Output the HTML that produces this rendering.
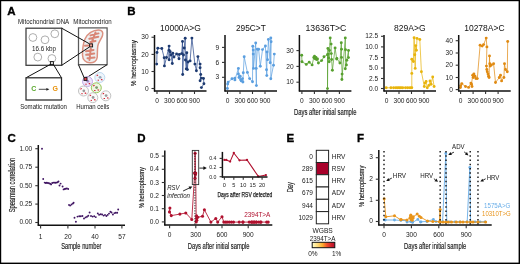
<!DOCTYPE html>
<html><head><meta charset="utf-8"><title>Figure</title>
<style>
html,body{margin:0;padding:0;background:#fff;width:520px;height:264px;overflow:hidden;}
svg{display:block;will-change:transform;}
text{font-family:"Liberation Sans", sans-serif;}
</style></head>
<body>
<svg width="520" height="264" viewBox="0 0 520 264">
<rect x="0" y="0" width="520" height="264" fill="#fff"/>
<rect x="0.5" y="0.5" width="518.8" height="262.8" fill="none" stroke="#000" stroke-width="1.4"/>
<text x="7.3" y="15.3" font-size="11.5" text-anchor="start" fill="#000" font-weight="bold" stroke="#000" stroke-width="0.35">A</text>
<text x="127.3" y="15.3" font-size="11.5" text-anchor="start" fill="#000" font-weight="bold" stroke="#000" stroke-width="0.35">B</text>
<text x="7.4" y="141.6" font-size="11.5" text-anchor="start" fill="#000" font-weight="bold" stroke="#000" stroke-width="0.35">C</text>
<text x="137.3" y="141.8" font-size="11.5" text-anchor="start" fill="#000" font-weight="bold" stroke="#000" stroke-width="0.35">D</text>
<text x="286.4" y="142.0" font-size="11.5" text-anchor="start" fill="#000" font-weight="bold" stroke="#000" stroke-width="0.35">E</text>
<text x="356.9" y="142.0" font-size="11.5" text-anchor="start" fill="#000" font-weight="bold" stroke="#000" stroke-width="0.35">F</text>
<text x="18" y="23.6" font-size="6.3" text-anchor="start" fill="#1a1a1a" textLength="51.2" lengthAdjust="spacingAndGlyphs">Mitochondrial DNA</text>
<text x="73.3" y="23.6" font-size="6.3" text-anchor="start" fill="#1a1a1a" textLength="38.4" lengthAdjust="spacingAndGlyphs">Mitochondrion</text>
<rect x="26" y="28.2" width="35.7" height="37.1" fill="#fff" stroke="#3a3a3a" stroke-width="1.25"/>
<circle cx="32.9" cy="37.5" r="3.9" fill="none" stroke="#999" stroke-width="0.8"/>
<circle cx="45" cy="39.8" r="3.9" fill="none" stroke="#999" stroke-width="0.8"/>
<circle cx="54.8" cy="33.8" r="3.9" fill="none" stroke="#999" stroke-width="0.8"/>
<circle cx="37.8" cy="57.1" r="3.9" fill="none" stroke="#999" stroke-width="0.8"/>
<circle cx="51.9" cy="58.5" r="3.9" fill="none" stroke="#999" stroke-width="0.8"/>
<text x="32.0" y="50.5" font-size="6.3" text-anchor="start" fill="#222" textLength="24" lengthAdjust="spacingAndGlyphs">16.6 kbp</text>
<rect x="78.5" y="27.9" width="28.6" height="36.8" fill="#fff" stroke="#5a5a5a" stroke-width="1.25"/>
<path d="M98.5,30 C102,30 103.5,32 102.5,35.5 C101.5,39 98.5,42 97.8,46 C97.2,50 97.5,54 97.2,57.5 C96.8,61 93.5,63 90,62.8 C86,62.6 82.6,60 82.5,55 C82.4,49 83,44 85,39 C87.5,33.5 93,30 98.5,30 Z" fill="#edeff0" stroke="#dc9282" stroke-width="1.5"/>
<path d="M95.5,32.5 L91.5,43 M90.5,35.4 L98.5,33.4 M89.3,38.8 L98.3,36.8 M90.3,42 L95.5,41 M90.8,48.5 L89.5,60 M86,51.2 L93.5,50 M86.2,54.8 L94.2,53.6 M87.5,58.2 L94.5,57.6 M85,45.8 L88.8,45.6" stroke="#d98676" stroke-width="2.0" fill="none" stroke-linecap="round"/>
<line x1="61.7" y1="28.2" x2="89.6" y2="43.9" stroke="#111" stroke-width="1"/>
<line x1="61.7" y1="65.3" x2="89.6" y2="46.9" stroke="#111" stroke-width="1"/>
<rect x="89.6" y="43.9" width="3" height="3" fill="#f0a090" stroke="#111" stroke-width="0.9"/>
<rect x="50.4" y="61.6" width="3" height="3" fill="#ddd" stroke="#111" stroke-width="0.9"/>
<line x1="50.4" y1="64.4" x2="26" y2="77.8" stroke="#111" stroke-width="1"/>
<line x1="53.4" y1="64.4" x2="61.5" y2="77.8" stroke="#111" stroke-width="1"/>
<line x1="78.5" y1="64.7" x2="84.0" y2="77.4" stroke="#111" stroke-width="1"/>
<line x1="107.1" y1="64.7" x2="87.0" y2="77.4" stroke="#111" stroke-width="1"/>
<rect x="26" y="77.8" width="35.5" height="22.2" fill="#fff" stroke="#2a2a2a" stroke-width="1.25"/>
<text x="31.3" y="91.2" font-size="7" text-anchor="start" fill="#5aa82e" font-weight="bold">C</text>
<line x1="38.8" y1="89.3" x2="47" y2="89.3" stroke="#222" stroke-width="0.8"/>
<path d="M46.4,87.9 L49.4,89.3 L46.4,90.7 Z" fill="#222"/>
<text x="52.4" y="91.2" font-size="7" text-anchor="start" fill="#e8920c" font-weight="bold">G</text>
<text x="20.2" y="108.7" font-size="6.3" text-anchor="start" fill="#1a1a1a" textLength="46.8" lengthAdjust="spacingAndGlyphs">Somatic mutation</text>
<text x="76.2" y="108.7" font-size="6.3" text-anchor="start" fill="#1a1a1a" textLength="33.2" lengthAdjust="spacingAndGlyphs">Human cells</text>
<circle cx="87.5" cy="81.5" r="5" fill="#ede4fb" stroke="#b9a0e0" stroke-width="0.9"/>
<circle cx="87.8" cy="81.3" r="1.4" fill="#a08cc8"/>
<rect x="84.3" y="78.7" width="1.6" height="1.1" fill="#d32030" transform="rotate(-30 85.1 79.3)"/>
<rect x="88.7" y="83.1" width="1.6" height="1.1" fill="#d32030" transform="rotate(20 89.5 83.6)"/>
<rect x="85.3" y="83.7" width="1.4" height="1" fill="#d32030"/>
<circle cx="99.8" cy="77.5" r="5" fill="#eef5fb" stroke="#b8d4ee" stroke-width="0.9"/>
<circle cx="100.1" cy="77.3" r="1.4" fill="#9ab"/>
<rect x="96.6" y="74.7" width="1.6" height="1.1" fill="#d32030" transform="rotate(-30 97.39999999999999 75.3)"/>
<rect x="101.0" y="79.1" width="1.6" height="1.1" fill="#d32030" transform="rotate(20 101.8 79.6)"/>
<rect x="97.6" y="79.7" width="1.4" height="1" fill="#d32030"/>
<circle cx="96.3" cy="87.8" r="5" fill="#eef6e2" stroke="#8cc04a" stroke-width="0.9"/>
<circle cx="96.6" cy="87.6" r="1.4" fill="#7a9a6a"/>
<rect x="93.1" y="85.0" width="1.6" height="1.1" fill="#d32030" transform="rotate(-30 93.89999999999999 85.6)"/>
<rect x="97.5" y="89.39999999999999" width="1.6" height="1.1" fill="#d32030" transform="rotate(20 98.3 89.89999999999999)"/>
<rect x="94.1" y="90.0" width="1.4" height="1" fill="#d32030"/>
<circle cx="83.5" cy="91.0" r="5" fill="#fafafa" stroke="#bbb" stroke-width="0.9"/>
<circle cx="83.8" cy="90.8" r="1.4" fill="#9a9a9a"/>
<rect x="80.3" y="88.2" width="1.6" height="1.1" fill="#d32030" transform="rotate(-30 81.1 88.8)"/>
<rect x="84.7" y="92.6" width="1.6" height="1.1" fill="#d32030" transform="rotate(20 85.5 93.1)"/>
<rect x="81.3" y="93.2" width="1.4" height="1" fill="#d32030"/>
<circle cx="92.8" cy="97.7" r="5" fill="#fafafa" stroke="#bbb" stroke-width="0.9"/>
<circle cx="93.1" cy="97.5" r="1.4" fill="#9a9a9a"/>
<rect x="89.6" y="94.9" width="1.6" height="1.1" fill="#d32030" transform="rotate(-30 90.39999999999999 95.5)"/>
<rect x="94.0" y="99.3" width="1.6" height="1.1" fill="#d32030" transform="rotate(20 94.8 99.8)"/>
<rect x="90.6" y="99.9" width="1.4" height="1" fill="#d32030"/>
<circle cx="105.8" cy="95.8" r="5" fill="#fafafa" stroke="#bbb" stroke-width="0.9"/>
<circle cx="106.1" cy="95.6" r="1.4" fill="#9a9a9a"/>
<rect x="102.6" y="93.0" width="1.6" height="1.1" fill="#d32030" transform="rotate(-30 103.39999999999999 93.6)"/>
<rect x="107.0" y="97.39999999999999" width="1.6" height="1.1" fill="#d32030" transform="rotate(20 107.8 97.89999999999999)"/>
<rect x="103.6" y="98.0" width="1.4" height="1" fill="#d32030"/>
<rect x="84.0" y="77.4" width="3" height="3" fill="#e04050" stroke="#111" stroke-width="0.9"/>
<polyline points="156.70,64.10 157.00,52.50 157.80,48.20 161.80,48.50 164.20,57.70 164.40,65.90 166.50,57.50 169.10,46.10 169.10,59.80 169.10,50.20 170.20,51.80 171.00,55.00 172.30,63.50 172.80,53.20 174.00,57.00 176.60,53.90 179.00,58.70 179.30,54.50 181.70,53.60 182.50,41.50 182.70,74.50 183.50,55.00 184.20,48.00 185.20,38.30 185.40,60.00 186.30,68.90 186.80,52.80 187.40,69.60 188.00,62.00 190.10,60.90 191.90,38.10 194.90,64.10 196.40,70.70 197.90,56.60 200.10,64.10 200.10,67.70 200.70,74.50 200.10,80.80 201.40,78.10 203.50,78.50 203.90,83.80 201.40,87.60" fill="none" stroke="#25468a" stroke-width="0.9" stroke-linejoin="round" stroke-opacity="0.8"/>
<circle cx="156.70" cy="64.10" r="1.45" fill="#1d3a70"/>
<circle cx="157.00" cy="52.50" r="1.45" fill="#1d3a70"/>
<circle cx="157.80" cy="48.20" r="1.45" fill="#1d3a70"/>
<circle cx="161.80" cy="48.50" r="1.45" fill="#1d3a70"/>
<circle cx="164.20" cy="57.70" r="1.45" fill="#1d3a70"/>
<circle cx="164.40" cy="65.90" r="1.45" fill="#1d3a70"/>
<circle cx="166.50" cy="57.50" r="1.45" fill="#1d3a70"/>
<circle cx="169.10" cy="46.10" r="1.45" fill="#1d3a70"/>
<circle cx="169.10" cy="59.80" r="1.45" fill="#1d3a70"/>
<circle cx="169.10" cy="50.20" r="1.45" fill="#1d3a70"/>
<circle cx="170.20" cy="51.80" r="1.45" fill="#1d3a70"/>
<circle cx="171.00" cy="55.00" r="1.45" fill="#1d3a70"/>
<circle cx="172.30" cy="63.50" r="1.45" fill="#1d3a70"/>
<circle cx="172.80" cy="53.20" r="1.45" fill="#1d3a70"/>
<circle cx="174.00" cy="57.00" r="1.45" fill="#1d3a70"/>
<circle cx="176.60" cy="53.90" r="1.45" fill="#1d3a70"/>
<circle cx="179.00" cy="58.70" r="1.45" fill="#1d3a70"/>
<circle cx="179.30" cy="54.50" r="1.45" fill="#1d3a70"/>
<circle cx="181.70" cy="53.60" r="1.45" fill="#1d3a70"/>
<circle cx="182.50" cy="41.50" r="1.45" fill="#1d3a70"/>
<circle cx="182.70" cy="74.50" r="1.45" fill="#1d3a70"/>
<circle cx="183.50" cy="55.00" r="1.45" fill="#1d3a70"/>
<circle cx="184.20" cy="48.00" r="1.45" fill="#1d3a70"/>
<circle cx="185.20" cy="38.30" r="1.45" fill="#1d3a70"/>
<circle cx="185.40" cy="60.00" r="1.45" fill="#1d3a70"/>
<circle cx="186.30" cy="68.90" r="1.45" fill="#1d3a70"/>
<circle cx="186.80" cy="52.80" r="1.45" fill="#1d3a70"/>
<circle cx="187.40" cy="69.60" r="1.45" fill="#1d3a70"/>
<circle cx="188.00" cy="62.00" r="1.45" fill="#1d3a70"/>
<circle cx="190.10" cy="60.90" r="1.45" fill="#1d3a70"/>
<circle cx="191.90" cy="38.10" r="1.45" fill="#1d3a70"/>
<circle cx="194.90" cy="64.10" r="1.45" fill="#1d3a70"/>
<circle cx="196.40" cy="70.70" r="1.45" fill="#1d3a70"/>
<circle cx="197.90" cy="56.60" r="1.45" fill="#1d3a70"/>
<circle cx="200.10" cy="64.10" r="1.45" fill="#1d3a70"/>
<circle cx="200.10" cy="67.70" r="1.45" fill="#1d3a70"/>
<circle cx="200.70" cy="74.50" r="1.45" fill="#1d3a70"/>
<circle cx="200.10" cy="80.80" r="1.45" fill="#1d3a70"/>
<circle cx="201.40" cy="78.10" r="1.45" fill="#1d3a70"/>
<circle cx="203.50" cy="78.50" r="1.45" fill="#1d3a70"/>
<circle cx="203.90" cy="83.80" r="1.45" fill="#1d3a70"/>
<circle cx="201.40" cy="87.60" r="1.45" fill="#1d3a70"/>
<line x1="154.5" y1="35" x2="154.5" y2="91.5" stroke="#111" stroke-width="1.5"/>
<line x1="154.0" y1="91" x2="206.5" y2="91" stroke="#111" stroke-width="1.5"/>
<line x1="151.5" y1="37.25" x2="154.5" y2="37.25" stroke="#333" stroke-width="1.1"/>
<text x="148.7" y="39.35" font-size="6.6" text-anchor="end" fill="#222">30</text>
<line x1="151.5" y1="54.4" x2="154.5" y2="54.4" stroke="#333" stroke-width="1.1"/>
<text x="148.7" y="56.5" font-size="6.6" text-anchor="end" fill="#222">20</text>
<line x1="151.5" y1="71.5" x2="154.5" y2="71.5" stroke="#333" stroke-width="1.1"/>
<text x="148.7" y="73.6" font-size="6.6" text-anchor="end" fill="#222">10</text>
<line x1="151.5" y1="88.5" x2="154.5" y2="88.5" stroke="#333" stroke-width="1.1"/>
<text x="148.7" y="90.6" font-size="6.6" text-anchor="end" fill="#222">0</text>
<line x1="157.0" y1="91" x2="157.0" y2="94" stroke="#333" stroke-width="1.1"/>
<text x="157.0" y="102.5" font-size="6.6" text-anchor="middle" fill="#222">0</text>
<line x1="169.5" y1="91" x2="169.5" y2="94" stroke="#333" stroke-width="1.1"/>
<text x="169.5" y="102.5" font-size="6.6" text-anchor="middle" fill="#222">300</text>
<line x1="182.0" y1="91" x2="182.0" y2="94" stroke="#333" stroke-width="1.1"/>
<text x="182.0" y="102.5" font-size="6.6" text-anchor="middle" fill="#222">600</text>
<line x1="194.5" y1="91" x2="194.5" y2="94" stroke="#333" stroke-width="1.1"/>
<text x="194.5" y="102.5" font-size="6.6" text-anchor="middle" fill="#222">900</text>
<text x="160.0" y="31" font-size="8.4" text-anchor="start" fill="#111" textLength="40.8" lengthAdjust="spacingAndGlyphs">10000A&gt;G</text>
<polyline points="227.40,88.50 227.70,84.00 228.20,82.10 232.00,78.80 234.90,78.10 234.90,79.90 238.40,68.40 238.40,74.00 239.00,77.50 240.20,76.30 240.60,79.70 241.30,80.90 242.50,78.60 242.90,82.00 243.30,72.70 244.20,56.80 247.40,72.40 249.60,78.60 252.50,81.80 252.80,46.20 253.20,50.10 253.20,54.10 253.50,68.40 255.70,43.00 256.40,85.60 256.20,68.40 257.30,49.20 258.60,49.20 260.30,66.20 262.50,49.60 265.40,46.00 266.50,69.80 266.80,75.60 267.00,51.90 267.50,59.80 268.40,39.50 270.20,62.70 270.80,37.90 271.10,41.70 270.80,78.80 273.50,65.20 274.30,54.10" fill="none" stroke="#5b9fe0" stroke-width="0.9" stroke-linejoin="round" stroke-opacity="0.8"/>
<circle cx="227.40" cy="88.50" r="1.45" fill="#5b9fe0"/>
<circle cx="227.70" cy="84.00" r="1.45" fill="#5b9fe0"/>
<circle cx="228.20" cy="82.10" r="1.45" fill="#5b9fe0"/>
<circle cx="232.00" cy="78.80" r="1.45" fill="#5b9fe0"/>
<circle cx="234.90" cy="78.10" r="1.45" fill="#5b9fe0"/>
<circle cx="234.90" cy="79.90" r="1.45" fill="#5b9fe0"/>
<circle cx="238.40" cy="68.40" r="1.45" fill="#5b9fe0"/>
<circle cx="238.40" cy="74.00" r="1.45" fill="#5b9fe0"/>
<circle cx="239.00" cy="77.50" r="1.45" fill="#5b9fe0"/>
<circle cx="240.20" cy="76.30" r="1.45" fill="#5b9fe0"/>
<circle cx="240.60" cy="79.70" r="1.45" fill="#5b9fe0"/>
<circle cx="241.30" cy="80.90" r="1.45" fill="#5b9fe0"/>
<circle cx="242.50" cy="78.60" r="1.45" fill="#5b9fe0"/>
<circle cx="242.90" cy="82.00" r="1.45" fill="#5b9fe0"/>
<circle cx="243.30" cy="72.70" r="1.45" fill="#5b9fe0"/>
<circle cx="244.20" cy="56.80" r="1.45" fill="#5b9fe0"/>
<circle cx="247.40" cy="72.40" r="1.45" fill="#5b9fe0"/>
<circle cx="249.60" cy="78.60" r="1.45" fill="#5b9fe0"/>
<circle cx="252.50" cy="81.80" r="1.45" fill="#5b9fe0"/>
<circle cx="252.80" cy="46.20" r="1.45" fill="#5b9fe0"/>
<circle cx="253.20" cy="50.10" r="1.45" fill="#5b9fe0"/>
<circle cx="253.20" cy="54.10" r="1.45" fill="#5b9fe0"/>
<circle cx="253.50" cy="68.40" r="1.45" fill="#5b9fe0"/>
<circle cx="255.70" cy="43.00" r="1.45" fill="#5b9fe0"/>
<circle cx="256.40" cy="85.60" r="1.45" fill="#5b9fe0"/>
<circle cx="256.20" cy="68.40" r="1.45" fill="#5b9fe0"/>
<circle cx="257.30" cy="49.20" r="1.45" fill="#5b9fe0"/>
<circle cx="258.60" cy="49.20" r="1.45" fill="#5b9fe0"/>
<circle cx="260.30" cy="66.20" r="1.45" fill="#5b9fe0"/>
<circle cx="262.50" cy="49.60" r="1.45" fill="#5b9fe0"/>
<circle cx="265.40" cy="46.00" r="1.45" fill="#5b9fe0"/>
<circle cx="266.50" cy="69.80" r="1.45" fill="#5b9fe0"/>
<circle cx="266.80" cy="75.60" r="1.45" fill="#5b9fe0"/>
<circle cx="267.00" cy="51.90" r="1.45" fill="#5b9fe0"/>
<circle cx="267.50" cy="59.80" r="1.45" fill="#5b9fe0"/>
<circle cx="268.40" cy="39.50" r="1.45" fill="#5b9fe0"/>
<circle cx="270.20" cy="62.70" r="1.45" fill="#5b9fe0"/>
<circle cx="270.80" cy="37.90" r="1.45" fill="#5b9fe0"/>
<circle cx="271.10" cy="41.70" r="1.45" fill="#5b9fe0"/>
<circle cx="270.80" cy="78.80" r="1.45" fill="#5b9fe0"/>
<circle cx="273.50" cy="65.20" r="1.45" fill="#5b9fe0"/>
<circle cx="274.30" cy="54.10" r="1.45" fill="#5b9fe0"/>
<line x1="225.0" y1="35" x2="225.0" y2="91.5" stroke="#111" stroke-width="1.5"/>
<line x1="224.5" y1="91" x2="277.0" y2="91" stroke="#111" stroke-width="1.5"/>
<line x1="222.0" y1="47.4" x2="225.0" y2="47.4" stroke="#333" stroke-width="1.1"/>
<text x="219.2" y="49.5" font-size="6.6" text-anchor="end" fill="#222">9</text>
<line x1="222.0" y1="62.4" x2="225.0" y2="62.4" stroke="#333" stroke-width="1.1"/>
<text x="219.2" y="64.5" font-size="6.6" text-anchor="end" fill="#222">6</text>
<line x1="222.0" y1="77.3" x2="225.0" y2="77.3" stroke="#333" stroke-width="1.1"/>
<text x="219.2" y="79.39999999999999" font-size="6.6" text-anchor="end" fill="#222">3</text>
<line x1="227.5" y1="91" x2="227.5" y2="94" stroke="#333" stroke-width="1.1"/>
<text x="227.5" y="102.5" font-size="6.6" text-anchor="middle" fill="#222">0</text>
<line x1="240.0" y1="91" x2="240.0" y2="94" stroke="#333" stroke-width="1.1"/>
<text x="240.0" y="102.5" font-size="6.6" text-anchor="middle" fill="#222">300</text>
<line x1="252.5" y1="91" x2="252.5" y2="94" stroke="#333" stroke-width="1.1"/>
<text x="252.5" y="102.5" font-size="6.6" text-anchor="middle" fill="#222">600</text>
<line x1="265.0" y1="91" x2="265.0" y2="94" stroke="#333" stroke-width="1.1"/>
<text x="265.0" y="102.5" font-size="6.6" text-anchor="middle" fill="#222">900</text>
<text x="236.0" y="31" font-size="8.4" text-anchor="start" fill="#111" textLength="29.8" lengthAdjust="spacingAndGlyphs">295C&gt;T</text>
<polyline points="301.70,55.20 302.00,61.70 306.30,64.40 309.20,62.20 312.10,64.90 313.80,57.50 314.50,56.20 315.20,58.80 316.00,57.40 316.50,59.50 317.50,59.00 318.40,63.00 321.60,60.60 324.00,56.80 327.50,54.70 327.50,88.60 327.90,48.40 328.10,54.10 328.60,58.00 329.20,61.70 329.50,50.50 330.20,37.90 331.10,44.10 331.30,53.60 331.60,59.50 332.40,70.30 335.10,47.90 336.70,59.00 336.90,58.40 339.90,63.00 341.30,42.80 341.50,49.20 341.50,57.40 342.10,74.10 341.90,79.50 345.30,37.90 345.50,49.80 345.30,68.70 346.40,64.90 346.80,60.20 348.50,50.50 348.50,57.60" fill="none" stroke="#56a02e" stroke-width="0.9" stroke-linejoin="round" stroke-opacity="0.8"/>
<circle cx="301.70" cy="55.20" r="1.45" fill="#56a02e"/>
<circle cx="302.00" cy="61.70" r="1.45" fill="#56a02e"/>
<circle cx="306.30" cy="64.40" r="1.45" fill="#56a02e"/>
<circle cx="309.20" cy="62.20" r="1.45" fill="#56a02e"/>
<circle cx="312.10" cy="64.90" r="1.45" fill="#56a02e"/>
<circle cx="313.80" cy="57.50" r="1.45" fill="#56a02e"/>
<circle cx="314.50" cy="56.20" r="1.45" fill="#56a02e"/>
<circle cx="315.20" cy="58.80" r="1.45" fill="#56a02e"/>
<circle cx="316.00" cy="57.40" r="1.45" fill="#56a02e"/>
<circle cx="316.50" cy="59.50" r="1.45" fill="#56a02e"/>
<circle cx="317.50" cy="59.00" r="1.45" fill="#56a02e"/>
<circle cx="318.40" cy="63.00" r="1.45" fill="#56a02e"/>
<circle cx="321.60" cy="60.60" r="1.45" fill="#56a02e"/>
<circle cx="324.00" cy="56.80" r="1.45" fill="#56a02e"/>
<circle cx="327.50" cy="54.70" r="1.45" fill="#56a02e"/>
<circle cx="327.50" cy="88.60" r="1.45" fill="#56a02e"/>
<circle cx="327.90" cy="48.40" r="1.45" fill="#56a02e"/>
<circle cx="328.10" cy="54.10" r="1.45" fill="#56a02e"/>
<circle cx="328.60" cy="58.00" r="1.45" fill="#56a02e"/>
<circle cx="329.20" cy="61.70" r="1.45" fill="#56a02e"/>
<circle cx="329.50" cy="50.50" r="1.45" fill="#56a02e"/>
<circle cx="330.20" cy="37.90" r="1.45" fill="#56a02e"/>
<circle cx="331.10" cy="44.10" r="1.45" fill="#56a02e"/>
<circle cx="331.30" cy="53.60" r="1.45" fill="#56a02e"/>
<circle cx="331.60" cy="59.50" r="1.45" fill="#56a02e"/>
<circle cx="332.40" cy="70.30" r="1.45" fill="#56a02e"/>
<circle cx="335.10" cy="47.90" r="1.45" fill="#56a02e"/>
<circle cx="336.70" cy="59.00" r="1.45" fill="#56a02e"/>
<circle cx="336.90" cy="58.40" r="1.45" fill="#56a02e"/>
<circle cx="339.90" cy="63.00" r="1.45" fill="#56a02e"/>
<circle cx="341.30" cy="42.80" r="1.45" fill="#56a02e"/>
<circle cx="341.50" cy="49.20" r="1.45" fill="#56a02e"/>
<circle cx="341.50" cy="57.40" r="1.45" fill="#56a02e"/>
<circle cx="342.10" cy="74.10" r="1.45" fill="#56a02e"/>
<circle cx="341.90" cy="79.50" r="1.45" fill="#56a02e"/>
<circle cx="345.30" cy="37.90" r="1.45" fill="#56a02e"/>
<circle cx="345.50" cy="49.80" r="1.45" fill="#56a02e"/>
<circle cx="345.30" cy="68.70" r="1.45" fill="#56a02e"/>
<circle cx="346.40" cy="64.90" r="1.45" fill="#56a02e"/>
<circle cx="346.80" cy="60.20" r="1.45" fill="#56a02e"/>
<circle cx="348.50" cy="50.50" r="1.45" fill="#56a02e"/>
<circle cx="348.50" cy="57.60" r="1.45" fill="#56a02e"/>
<line x1="299.4" y1="35" x2="299.4" y2="91.5" stroke="#111" stroke-width="1.5"/>
<line x1="298.9" y1="91" x2="351.4" y2="91" stroke="#111" stroke-width="1.5"/>
<line x1="296.4" y1="50.6" x2="299.4" y2="50.6" stroke="#333" stroke-width="1.1"/>
<text x="293.59999999999997" y="52.7" font-size="6.6" text-anchor="end" fill="#222">30</text>
<line x1="296.4" y1="66.4" x2="299.4" y2="66.4" stroke="#333" stroke-width="1.1"/>
<text x="293.59999999999997" y="68.5" font-size="6.6" text-anchor="end" fill="#222">20</text>
<line x1="296.4" y1="82.2" x2="299.4" y2="82.2" stroke="#333" stroke-width="1.1"/>
<text x="293.59999999999997" y="84.3" font-size="6.6" text-anchor="end" fill="#222">10</text>
<line x1="301.9" y1="91" x2="301.9" y2="94" stroke="#333" stroke-width="1.1"/>
<text x="301.9" y="102.5" font-size="6.6" text-anchor="middle" fill="#222">0</text>
<line x1="314.4" y1="91" x2="314.4" y2="94" stroke="#333" stroke-width="1.1"/>
<text x="314.4" y="102.5" font-size="6.6" text-anchor="middle" fill="#222">300</text>
<line x1="326.9" y1="91" x2="326.9" y2="94" stroke="#333" stroke-width="1.1"/>
<text x="326.9" y="102.5" font-size="6.6" text-anchor="middle" fill="#222">600</text>
<line x1="339.4" y1="91" x2="339.4" y2="94" stroke="#333" stroke-width="1.1"/>
<text x="339.4" y="102.5" font-size="6.6" text-anchor="middle" fill="#222">900</text>
<text x="305.5" y="31" font-size="8.4" text-anchor="start" fill="#111" textLength="40.8" lengthAdjust="spacingAndGlyphs">13636T&gt;C</text>
<polyline points="386.20,87.80 390.90,87.80 393.60,87.80 395.90,87.80 397.70,87.80 399.30,87.80 400.90,87.80 402.70,87.80 405.50,87.80 407.70,87.80 410.00,87.80 411.80,87.80 411.80,73.40 411.80,59.30 413.40,61.50 414.10,37.70 414.80,54.70 415.20,68.40 415.70,45.60 416.40,50.20 417.00,38.40 419.80,39.50 421.40,71.80 424.30,86.50 425.00,83.10 426.10,81.50 427.30,87.70 428.90,85.40 430.00,80.90 431.10,84.30 432.70,77.00 434.10,86.50" fill="none" stroke="#e8b40c" stroke-width="0.9" stroke-linejoin="round" stroke-opacity="0.8"/>
<circle cx="386.20" cy="87.80" r="1.45" fill="#e8b40c"/>
<circle cx="390.90" cy="87.80" r="1.45" fill="#e8b40c"/>
<circle cx="393.60" cy="87.80" r="1.45" fill="#e8b40c"/>
<circle cx="395.90" cy="87.80" r="1.45" fill="#e8b40c"/>
<circle cx="397.70" cy="87.80" r="1.45" fill="#e8b40c"/>
<circle cx="399.30" cy="87.80" r="1.45" fill="#e8b40c"/>
<circle cx="400.90" cy="87.80" r="1.45" fill="#e8b40c"/>
<circle cx="402.70" cy="87.80" r="1.45" fill="#e8b40c"/>
<circle cx="405.50" cy="87.80" r="1.45" fill="#e8b40c"/>
<circle cx="407.70" cy="87.80" r="1.45" fill="#e8b40c"/>
<circle cx="410.00" cy="87.80" r="1.45" fill="#e8b40c"/>
<circle cx="411.80" cy="87.80" r="1.45" fill="#e8b40c"/>
<circle cx="411.80" cy="73.40" r="1.45" fill="#e8b40c"/>
<circle cx="411.80" cy="59.30" r="1.45" fill="#e8b40c"/>
<circle cx="413.40" cy="61.50" r="1.45" fill="#e8b40c"/>
<circle cx="414.10" cy="37.70" r="1.45" fill="#e8b40c"/>
<circle cx="414.80" cy="54.70" r="1.45" fill="#e8b40c"/>
<circle cx="415.20" cy="68.40" r="1.45" fill="#e8b40c"/>
<circle cx="415.70" cy="45.60" r="1.45" fill="#e8b40c"/>
<circle cx="416.40" cy="50.20" r="1.45" fill="#e8b40c"/>
<circle cx="417.00" cy="38.40" r="1.45" fill="#e8b40c"/>
<circle cx="419.80" cy="39.50" r="1.45" fill="#e8b40c"/>
<circle cx="421.40" cy="71.80" r="1.45" fill="#e8b40c"/>
<circle cx="424.30" cy="86.50" r="1.45" fill="#e8b40c"/>
<circle cx="425.00" cy="83.10" r="1.45" fill="#e8b40c"/>
<circle cx="426.10" cy="81.50" r="1.45" fill="#e8b40c"/>
<circle cx="427.30" cy="87.70" r="1.45" fill="#e8b40c"/>
<circle cx="428.90" cy="85.40" r="1.45" fill="#e8b40c"/>
<circle cx="430.00" cy="80.90" r="1.45" fill="#e8b40c"/>
<circle cx="431.10" cy="84.30" r="1.45" fill="#e8b40c"/>
<circle cx="432.70" cy="77.00" r="1.45" fill="#e8b40c"/>
<circle cx="434.10" cy="86.50" r="1.45" fill="#e8b40c"/>
<line x1="384.0" y1="35" x2="384.0" y2="91.5" stroke="#111" stroke-width="1.5"/>
<line x1="383.5" y1="91" x2="436.0" y2="91" stroke="#111" stroke-width="1.5"/>
<line x1="381.0" y1="36.3" x2="384.0" y2="36.3" stroke="#333" stroke-width="1.1"/>
<text x="378.2" y="38.4" font-size="6.6" text-anchor="end" fill="#222">12.5</text>
<line x1="381.0" y1="46.9" x2="384.0" y2="46.9" stroke="#333" stroke-width="1.1"/>
<text x="378.2" y="49.0" font-size="6.6" text-anchor="end" fill="#222">10.0</text>
<line x1="381.0" y1="57.5" x2="384.0" y2="57.5" stroke="#333" stroke-width="1.1"/>
<text x="378.2" y="59.6" font-size="6.6" text-anchor="end" fill="#222">7.5</text>
<line x1="381.0" y1="68.0" x2="384.0" y2="68.0" stroke="#333" stroke-width="1.1"/>
<text x="378.2" y="70.1" font-size="6.6" text-anchor="end" fill="#222">5.0</text>
<line x1="381.0" y1="78.5" x2="384.0" y2="78.5" stroke="#333" stroke-width="1.1"/>
<text x="378.2" y="80.6" font-size="6.6" text-anchor="end" fill="#222">2.5</text>
<line x1="381.0" y1="88.5" x2="384.0" y2="88.5" stroke="#333" stroke-width="1.1"/>
<text x="378.2" y="90.6" font-size="6.6" text-anchor="end" fill="#222">0.0</text>
<line x1="386.5" y1="91" x2="386.5" y2="94" stroke="#333" stroke-width="1.1"/>
<text x="386.5" y="102.5" font-size="6.6" text-anchor="middle" fill="#222">0</text>
<line x1="399.0" y1="91" x2="399.0" y2="94" stroke="#333" stroke-width="1.1"/>
<text x="399.0" y="102.5" font-size="6.6" text-anchor="middle" fill="#222">300</text>
<line x1="411.5" y1="91" x2="411.5" y2="94" stroke="#333" stroke-width="1.1"/>
<text x="411.5" y="102.5" font-size="6.6" text-anchor="middle" fill="#222">600</text>
<line x1="424.0" y1="91" x2="424.0" y2="94" stroke="#333" stroke-width="1.1"/>
<text x="424.0" y="102.5" font-size="6.6" text-anchor="middle" fill="#222">900</text>
<text x="394.0" y="31" font-size="8.4" text-anchor="start" fill="#111" textLength="31.6" lengthAdjust="spacingAndGlyphs">829A&gt;G</text>
<polyline points="460.40,87.60 460.70,85.80 461.80,83.60 465.50,86.50 468.60,87.40 470.90,83.10 472.00,86.50 471.50,84.20 472.70,75.20 473.20,77.50 473.90,74.00 475.00,76.30 475.90,78.60 477.30,78.60 480.10,45.30 482.20,46.10 483.60,44.60 486.20,38.10 486.90,46.90 486.40,66.10 486.80,69.50 487.30,71.80 488.00,74.00 488.60,76.30 489.10,77.50 489.50,55.90 489.80,63.80 490.20,66.10 491.40,65.00 493.60,63.80 495.50,82.50 499.30,77.50 500.50,75.20 501.60,80.90 503.90,77.50 504.50,63.80 505.50,69.50 507.30,71.80 507.70,41.50" fill="none" stroke="#e08a12" stroke-width="0.9" stroke-linejoin="round" stroke-opacity="0.8"/>
<circle cx="460.40" cy="87.60" r="1.45" fill="#e08a12"/>
<circle cx="460.70" cy="85.80" r="1.45" fill="#e08a12"/>
<circle cx="461.80" cy="83.60" r="1.45" fill="#e08a12"/>
<circle cx="465.50" cy="86.50" r="1.45" fill="#e08a12"/>
<circle cx="468.60" cy="87.40" r="1.45" fill="#e08a12"/>
<circle cx="470.90" cy="83.10" r="1.45" fill="#e08a12"/>
<circle cx="472.00" cy="86.50" r="1.45" fill="#e08a12"/>
<circle cx="471.50" cy="84.20" r="1.45" fill="#e08a12"/>
<circle cx="472.70" cy="75.20" r="1.45" fill="#e08a12"/>
<circle cx="473.20" cy="77.50" r="1.45" fill="#e08a12"/>
<circle cx="473.90" cy="74.00" r="1.45" fill="#e08a12"/>
<circle cx="475.00" cy="76.30" r="1.45" fill="#e08a12"/>
<circle cx="475.90" cy="78.60" r="1.45" fill="#e08a12"/>
<circle cx="477.30" cy="78.60" r="1.45" fill="#e08a12"/>
<circle cx="480.10" cy="45.30" r="1.45" fill="#e08a12"/>
<circle cx="482.20" cy="46.10" r="1.45" fill="#e08a12"/>
<circle cx="483.60" cy="44.60" r="1.45" fill="#e08a12"/>
<circle cx="486.20" cy="38.10" r="1.45" fill="#e08a12"/>
<circle cx="486.90" cy="46.90" r="1.45" fill="#e08a12"/>
<circle cx="486.40" cy="66.10" r="1.45" fill="#e08a12"/>
<circle cx="486.80" cy="69.50" r="1.45" fill="#e08a12"/>
<circle cx="487.30" cy="71.80" r="1.45" fill="#e08a12"/>
<circle cx="488.00" cy="74.00" r="1.45" fill="#e08a12"/>
<circle cx="488.60" cy="76.30" r="1.45" fill="#e08a12"/>
<circle cx="489.10" cy="77.50" r="1.45" fill="#e08a12"/>
<circle cx="489.50" cy="55.90" r="1.45" fill="#e08a12"/>
<circle cx="489.80" cy="63.80" r="1.45" fill="#e08a12"/>
<circle cx="490.20" cy="66.10" r="1.45" fill="#e08a12"/>
<circle cx="491.40" cy="65.00" r="1.45" fill="#e08a12"/>
<circle cx="493.60" cy="63.80" r="1.45" fill="#e08a12"/>
<circle cx="495.50" cy="82.50" r="1.45" fill="#e08a12"/>
<circle cx="499.30" cy="77.50" r="1.45" fill="#e08a12"/>
<circle cx="500.50" cy="75.20" r="1.45" fill="#e08a12"/>
<circle cx="501.60" cy="80.90" r="1.45" fill="#e08a12"/>
<circle cx="503.90" cy="77.50" r="1.45" fill="#e08a12"/>
<circle cx="504.50" cy="63.80" r="1.45" fill="#e08a12"/>
<circle cx="505.50" cy="69.50" r="1.45" fill="#e08a12"/>
<circle cx="507.30" cy="71.80" r="1.45" fill="#e08a12"/>
<circle cx="507.70" cy="41.50" r="1.45" fill="#e08a12"/>
<line x1="458.7" y1="35" x2="458.7" y2="91.5" stroke="#111" stroke-width="1.5"/>
<line x1="458.2" y1="91" x2="510.7" y2="91" stroke="#111" stroke-width="1.5"/>
<line x1="455.7" y1="40.7" x2="458.7" y2="40.7" stroke="#333" stroke-width="1.1"/>
<text x="452.9" y="42.800000000000004" font-size="6.6" text-anchor="end" fill="#222">40</text>
<line x1="455.7" y1="53.0" x2="458.7" y2="53.0" stroke="#333" stroke-width="1.1"/>
<text x="452.9" y="55.1" font-size="6.6" text-anchor="end" fill="#222">30</text>
<line x1="455.7" y1="65.2" x2="458.7" y2="65.2" stroke="#333" stroke-width="1.1"/>
<text x="452.9" y="67.3" font-size="6.6" text-anchor="end" fill="#222">20</text>
<line x1="455.7" y1="77.5" x2="458.7" y2="77.5" stroke="#333" stroke-width="1.1"/>
<text x="452.9" y="79.6" font-size="6.6" text-anchor="end" fill="#222">10</text>
<line x1="455.7" y1="89.6" x2="458.7" y2="89.6" stroke="#333" stroke-width="1.1"/>
<text x="452.9" y="91.69999999999999" font-size="6.6" text-anchor="end" fill="#222">0</text>
<line x1="460.6" y1="91" x2="460.6" y2="94" stroke="#333" stroke-width="1.1"/>
<text x="460.6" y="102.5" font-size="6.6" text-anchor="middle" fill="#222">0</text>
<line x1="473.1" y1="91" x2="473.1" y2="94" stroke="#333" stroke-width="1.1"/>
<text x="473.1" y="102.5" font-size="6.6" text-anchor="middle" fill="#222">300</text>
<line x1="485.6" y1="91" x2="485.6" y2="94" stroke="#333" stroke-width="1.1"/>
<text x="485.6" y="102.5" font-size="6.6" text-anchor="middle" fill="#222">600</text>
<line x1="498.1" y1="91" x2="498.1" y2="94" stroke="#333" stroke-width="1.1"/>
<text x="498.1" y="102.5" font-size="6.6" text-anchor="middle" fill="#222">900</text>
<text x="464.2" y="31" font-size="8.4" text-anchor="start" fill="#111" textLength="40.4" lengthAdjust="spacingAndGlyphs">10278A&gt;C</text>
<text transform="translate(135.7,63.2) rotate(-90)" x="0" y="0" font-size="8.1" text-anchor="middle" fill="#1a1a1a" textLength="46.3" lengthAdjust="spacingAndGlyphs" stroke="#1a1a1a" stroke-width="0.16">% heteroplasmy</text>
<text x="294" y="114.6" font-size="8.4" text-anchor="start" fill="#1a1a1a" textLength="62.4" lengthAdjust="spacingAndGlyphs" stroke="#1a1a1a" stroke-width="0.16">Days after initial sample</text>
<circle cx="42.00" cy="148.70" r="0.95" fill="#3f1462"/>
<circle cx="43.20" cy="179.00" r="0.95" fill="#3f1462"/>
<circle cx="44.70" cy="182.60" r="0.95" fill="#3f1462"/>
<circle cx="45.80" cy="183.00" r="0.95" fill="#3f1462"/>
<circle cx="46.80" cy="182.80" r="0.95" fill="#3f1462"/>
<circle cx="47.90" cy="183.00" r="0.95" fill="#3f1462"/>
<circle cx="49.00" cy="183.30" r="0.95" fill="#3f1462"/>
<circle cx="50.10" cy="183.80" r="0.95" fill="#3f1462"/>
<circle cx="51.10" cy="184.40" r="0.95" fill="#3f1462"/>
<circle cx="52.20" cy="183.00" r="0.95" fill="#3f1462"/>
<circle cx="53.30" cy="182.60" r="0.95" fill="#3f1462"/>
<circle cx="54.40" cy="182.60" r="0.95" fill="#3f1462"/>
<circle cx="55.40" cy="182.80" r="0.95" fill="#3f1462"/>
<circle cx="56.50" cy="182.60" r="0.95" fill="#3f1462"/>
<circle cx="57.60" cy="182.20" r="0.95" fill="#3f1462"/>
<circle cx="58.50" cy="181.50" r="0.95" fill="#3f1462"/>
<circle cx="59.50" cy="185.50" r="0.95" fill="#3f1462"/>
<circle cx="60.60" cy="183.60" r="0.95" fill="#3f1462"/>
<circle cx="62.60" cy="186.50" r="0.95" fill="#3f1462"/>
<circle cx="63.60" cy="189.40" r="0.95" fill="#3f1462"/>
<circle cx="64.70" cy="189.00" r="0.95" fill="#3f1462"/>
<circle cx="65.80" cy="188.70" r="0.95" fill="#3f1462"/>
<circle cx="66.90" cy="188.40" r="0.95" fill="#3f1462"/>
<circle cx="68.20" cy="189.00" r="0.95" fill="#3f1462"/>
<circle cx="69.00" cy="204.90" r="0.95" fill="#3f1462"/>
<circle cx="70.10" cy="205.60" r="0.95" fill="#3f1462"/>
<circle cx="71.50" cy="204.50" r="0.95" fill="#3f1462"/>
<circle cx="72.90" cy="203.60" r="0.95" fill="#3f1462"/>
<circle cx="73.60" cy="202.80" r="0.95" fill="#3f1462"/>
<circle cx="74.50" cy="217.70" r="0.95" fill="#3f1462"/>
<circle cx="75.90" cy="221.70" r="0.95" fill="#3f1462"/>
<circle cx="77.50" cy="216.60" r="0.95" fill="#3f1462"/>
<circle cx="79.20" cy="216.30" r="0.95" fill="#3f1462"/>
<circle cx="80.80" cy="216.30" r="0.95" fill="#3f1462"/>
<circle cx="82.40" cy="216.00" r="0.95" fill="#3f1462"/>
<circle cx="84.00" cy="218.50" r="0.95" fill="#3f1462"/>
<circle cx="85.60" cy="217.40" r="0.95" fill="#3f1462"/>
<circle cx="87.00" cy="216.80" r="0.95" fill="#3f1462"/>
<circle cx="88.30" cy="215.80" r="0.95" fill="#3f1462"/>
<circle cx="89.60" cy="212.50" r="0.95" fill="#3f1462"/>
<circle cx="91.00" cy="216.00" r="0.95" fill="#3f1462"/>
<circle cx="92.60" cy="216.60" r="0.95" fill="#3f1462"/>
<circle cx="94.20" cy="216.30" r="0.95" fill="#3f1462"/>
<circle cx="95.80" cy="217.10" r="0.95" fill="#3f1462"/>
<circle cx="97.80" cy="213.40" r="0.95" fill="#3f1462"/>
<circle cx="99.10" cy="214.70" r="0.95" fill="#3f1462"/>
<circle cx="100.70" cy="214.20" r="0.95" fill="#3f1462"/>
<circle cx="102.10" cy="214.50" r="0.95" fill="#3f1462"/>
<circle cx="103.60" cy="215.60" r="0.95" fill="#3f1462"/>
<circle cx="105.00" cy="214.90" r="0.95" fill="#3f1462"/>
<circle cx="106.40" cy="216.00" r="0.95" fill="#3f1462"/>
<circle cx="107.70" cy="214.90" r="0.95" fill="#3f1462"/>
<circle cx="109.00" cy="213.60" r="0.95" fill="#3f1462"/>
<circle cx="110.40" cy="211.70" r="0.95" fill="#3f1462"/>
<circle cx="111.50" cy="212.50" r="0.95" fill="#3f1462"/>
<circle cx="112.90" cy="214.50" r="0.95" fill="#3f1462"/>
<circle cx="114.40" cy="213.10" r="0.95" fill="#3f1462"/>
<circle cx="115.80" cy="212.80" r="0.95" fill="#3f1462"/>
<circle cx="117.20" cy="212.80" r="0.95" fill="#3f1462"/>
<circle cx="118.20" cy="209.50" r="0.95" fill="#3f1462"/>
<line x1="38.3" y1="145" x2="38.3" y2="225.8" stroke="#111" stroke-width="1.5"/>
<line x1="37.8" y1="225.3" x2="125" y2="225.3" stroke="#111" stroke-width="1.5"/>
<line x1="35.3" y1="148.7" x2="38.3" y2="148.7" stroke="#333" stroke-width="1.1"/>
<text x="32.3" y="150.6" font-size="6.6" text-anchor="end" fill="#222">1.00</text>
<line x1="35.3" y1="167.2" x2="38.3" y2="167.2" stroke="#333" stroke-width="1.1"/>
<text x="32.3" y="169.1" font-size="6.6" text-anchor="end" fill="#222">0.75</text>
<line x1="35.3" y1="185.7" x2="38.3" y2="185.7" stroke="#333" stroke-width="1.1"/>
<text x="32.3" y="187.6" font-size="6.6" text-anchor="end" fill="#222">0.50</text>
<line x1="35.3" y1="204.1" x2="38.3" y2="204.1" stroke="#333" stroke-width="1.1"/>
<text x="32.3" y="206.0" font-size="6.6" text-anchor="end" fill="#222">0.25</text>
<line x1="35.3" y1="222.5" x2="38.3" y2="222.5" stroke="#333" stroke-width="1.1"/>
<text x="32.3" y="224.4" font-size="6.6" text-anchor="end" fill="#222">0.00</text>
<line x1="40.6" y1="225.3" x2="40.6" y2="228.4" stroke="#333" stroke-width="1.1"/>
<text x="40.6" y="238.6" font-size="6.6" text-anchor="middle" fill="#222">1</text>
<line x1="67.9" y1="225.3" x2="67.9" y2="228.4" stroke="#333" stroke-width="1.1"/>
<text x="67.9" y="238.6" font-size="6.6" text-anchor="middle" fill="#222">20</text>
<line x1="95.0" y1="225.3" x2="95.0" y2="228.4" stroke="#333" stroke-width="1.1"/>
<text x="95.0" y="238.6" font-size="6.6" text-anchor="middle" fill="#222">40</text>
<line x1="121.9" y1="225.3" x2="121.9" y2="228.4" stroke="#333" stroke-width="1.1"/>
<text x="121.9" y="238.6" font-size="6.6" text-anchor="middle" fill="#222">57</text>
<text transform="translate(15.0,185.1) rotate(-90)" x="0" y="0" font-size="8.2" text-anchor="middle" fill="#1a1a1a" textLength="54.4" lengthAdjust="spacingAndGlyphs" stroke="#1a1a1a" stroke-width="0.16">Spearman correlation</text>
<text x="61.2" y="248.5" font-size="8.4" text-anchor="start" fill="#1a1a1a" textLength="40.3" lengthAdjust="spacingAndGlyphs" stroke="#1a1a1a" stroke-width="0.16">Sample number</text>
<polyline points="169.90,208.10 169.50,211.90 171.30,215.60 179.90,214.10 185.80,213.00 191.80,219.50 194.70,173.10 194.80,173.10 195.00,178.30 195.10,153.30 195.40,174.40 195.70,173.10 196.20,221.90 196.60,218.00 196.60,215.90 196.80,220.30 197.70,217.30 202.50,216.20 204.40,209.80 210.90,222.10 215.80,218.50 217.70,222.10 222.00,216.70 223.80,222.10 225.50,222.10 227.10,222.10 229.20,222.10 231.40,222.10 233.50,222.10 239.20,222.10 242.90,222.10 243.00,222.10 249.20,222.10 251.30,222.10 251.80,222.10 252.90,222.10 254.00,222.10 254.50,222.10 256.20,222.10 256.50,222.10 258.80,222.10 260.50,222.10 261.00,222.10 266.70,222.10 268.20,222.10" fill="none" stroke="#b0102e" stroke-width="1.0" stroke-linejoin="round" stroke-opacity="0.85"/>
<circle cx="169.90" cy="208.10" r="1.55" fill="#b0102e"/>
<circle cx="169.50" cy="211.90" r="1.55" fill="#b0102e"/>
<circle cx="171.30" cy="215.60" r="1.55" fill="#b0102e"/>
<circle cx="179.90" cy="214.10" r="1.55" fill="#b0102e"/>
<circle cx="185.80" cy="213.00" r="1.55" fill="#b0102e"/>
<circle cx="191.80" cy="219.50" r="1.55" fill="#b0102e"/>
<circle cx="194.70" cy="173.10" r="1.55" fill="#b0102e"/>
<circle cx="194.80" cy="173.10" r="1.55" fill="#b0102e"/>
<circle cx="195.00" cy="178.30" r="1.55" fill="#b0102e"/>
<circle cx="195.10" cy="153.30" r="1.55" fill="#b0102e"/>
<circle cx="195.40" cy="174.40" r="1.55" fill="#b0102e"/>
<circle cx="195.70" cy="173.10" r="1.55" fill="#b0102e"/>
<circle cx="196.20" cy="221.90" r="1.55" fill="#b0102e"/>
<circle cx="196.60" cy="218.00" r="1.55" fill="#b0102e"/>
<circle cx="196.60" cy="215.90" r="1.55" fill="#b0102e"/>
<circle cx="196.80" cy="220.30" r="1.55" fill="#b0102e"/>
<circle cx="197.70" cy="217.30" r="1.55" fill="#b0102e"/>
<circle cx="202.50" cy="216.20" r="1.55" fill="#b0102e"/>
<circle cx="204.40" cy="209.80" r="1.55" fill="#b0102e"/>
<circle cx="210.90" cy="222.10" r="1.55" fill="#b0102e"/>
<circle cx="215.80" cy="218.50" r="1.55" fill="#b0102e"/>
<circle cx="217.70" cy="222.10" r="1.55" fill="#b0102e"/>
<circle cx="222.00" cy="216.70" r="1.55" fill="#b0102e"/>
<circle cx="223.80" cy="222.10" r="1.55" fill="#b0102e"/>
<circle cx="225.50" cy="222.10" r="1.55" fill="#b0102e"/>
<circle cx="227.10" cy="222.10" r="1.55" fill="#b0102e"/>
<circle cx="229.20" cy="222.10" r="1.55" fill="#b0102e"/>
<circle cx="231.40" cy="222.10" r="1.55" fill="#b0102e"/>
<circle cx="233.50" cy="222.10" r="1.55" fill="#b0102e"/>
<circle cx="239.20" cy="222.10" r="1.55" fill="#b0102e"/>
<circle cx="242.90" cy="222.10" r="1.55" fill="#b0102e"/>
<circle cx="243.00" cy="222.10" r="1.55" fill="#b0102e"/>
<circle cx="249.20" cy="222.10" r="1.55" fill="#b0102e"/>
<circle cx="251.30" cy="222.10" r="1.55" fill="#b0102e"/>
<circle cx="251.80" cy="222.10" r="1.55" fill="#b0102e"/>
<circle cx="252.90" cy="222.10" r="1.55" fill="#b0102e"/>
<circle cx="254.00" cy="222.10" r="1.55" fill="#b0102e"/>
<circle cx="254.50" cy="222.10" r="1.55" fill="#b0102e"/>
<circle cx="256.20" cy="222.10" r="1.55" fill="#b0102e"/>
<circle cx="256.50" cy="222.10" r="1.55" fill="#b0102e"/>
<circle cx="258.80" cy="222.10" r="1.55" fill="#b0102e"/>
<circle cx="260.50" cy="222.10" r="1.55" fill="#b0102e"/>
<circle cx="261.00" cy="222.10" r="1.55" fill="#b0102e"/>
<circle cx="266.70" cy="222.10" r="1.55" fill="#b0102e"/>
<circle cx="268.20" cy="222.10" r="1.55" fill="#b0102e"/>
<line x1="194.9" y1="150.5" x2="194.9" y2="225" stroke="#111" stroke-width="0.9" stroke-dasharray="1.2,1.4"/>
<rect x="192.3" y="150.4" width="6.4" height="34.2" fill="none" stroke="#333" stroke-width="0.9"/>
<line x1="164.8" y1="150.4" x2="164.8" y2="225.6" stroke="#111" stroke-width="1.5"/>
<line x1="164.3" y1="225.1" x2="272.3" y2="225.1" stroke="#111" stroke-width="1.5"/>
<line x1="161.8" y1="156.1" x2="164.8" y2="156.1" stroke="#333" stroke-width="1.1"/>
<text x="158.9" y="158.1" font-size="6.6" text-anchor="end" fill="#222">0.5</text>
<line x1="161.8" y1="169.3" x2="164.8" y2="169.3" stroke="#333" stroke-width="1.1"/>
<text x="158.9" y="171.3" font-size="6.6" text-anchor="end" fill="#222">0.4</text>
<line x1="161.8" y1="182.5" x2="164.8" y2="182.5" stroke="#333" stroke-width="1.1"/>
<text x="158.9" y="184.5" font-size="6.6" text-anchor="end" fill="#222">0.3</text>
<line x1="161.8" y1="195.5" x2="164.8" y2="195.5" stroke="#333" stroke-width="1.1"/>
<text x="158.9" y="197.5" font-size="6.6" text-anchor="end" fill="#222">0.2</text>
<line x1="161.8" y1="208.7" x2="164.8" y2="208.7" stroke="#333" stroke-width="1.1"/>
<text x="158.9" y="210.7" font-size="6.6" text-anchor="end" fill="#222">0.1</text>
<line x1="161.8" y1="221.9" x2="164.8" y2="221.9" stroke="#333" stroke-width="1.1"/>
<text x="158.9" y="223.9" font-size="6.6" text-anchor="end" fill="#222">0.0</text>
<line x1="169.6" y1="225.1" x2="169.6" y2="228.2" stroke="#333" stroke-width="1.1"/>
<text x="169.6" y="236.5" font-size="6.6" text-anchor="middle" fill="#222">0</text>
<line x1="195.79999999999998" y1="225.1" x2="195.79999999999998" y2="228.2" stroke="#333" stroke-width="1.1"/>
<text x="195.79999999999998" y="236.5" font-size="6.6" text-anchor="middle" fill="#222">300</text>
<line x1="222.0" y1="225.1" x2="222.0" y2="228.2" stroke="#333" stroke-width="1.1"/>
<text x="222.0" y="236.5" font-size="6.6" text-anchor="middle" fill="#222">600</text>
<line x1="248.2" y1="225.1" x2="248.2" y2="228.2" stroke="#333" stroke-width="1.1"/>
<text x="248.2" y="236.5" font-size="6.6" text-anchor="middle" fill="#222">900</text>
<text transform="translate(144.3,187.7) rotate(-90)" x="0" y="0" font-size="7.9" text-anchor="middle" fill="#1a1a1a" textLength="41.2" lengthAdjust="spacingAndGlyphs" stroke="#1a1a1a" stroke-width="0.16">% heteroplasmy</text>
<text x="187.7" y="248.7" font-size="8.4" text-anchor="start" fill="#1a1a1a" textLength="61.9" lengthAdjust="spacingAndGlyphs" stroke="#1a1a1a" stroke-width="0.16">Days after initial sample</text>
<text x="167.2" y="189.8" font-size="6.5" text-anchor="start" fill="#1a1a1a" textLength="12.4" lengthAdjust="spacingAndGlyphs" font-style="italic">RSV</text>
<text x="167.2" y="198.0" font-size="6.5" text-anchor="start" fill="#1a1a1a" textLength="22.8" lengthAdjust="spacingAndGlyphs" font-style="italic">infection</text>
<line x1="183.1" y1="191.0" x2="190.6" y2="187.4" stroke="#111" stroke-width="0.9"/>
<path d="M192.4,186.5 L188.6,186.6 L190.0,189.5 Z" fill="#111"/>
<line x1="199.3" y1="168.1" x2="204.5" y2="168.1" stroke="#111" stroke-width="0.9"/>
<path d="M206.8,168.1 L203.4,166.3 L203.4,169.9 Z" fill="#111"/>
<polyline points="224.40,159.90 226.30,159.90 230.10,161.60 233.80,153.00 239.50,160.30 247.00,159.90 258.30,176.40 265.90,175.10" fill="none" stroke="#b0102e" stroke-width="1.05" stroke-linejoin="round"/>
<circle cx="224.40" cy="159.90" r="1.15" fill="#b0102e"/>
<circle cx="226.30" cy="159.90" r="1.15" fill="#b0102e"/>
<circle cx="230.10" cy="161.60" r="1.15" fill="#b0102e"/>
<circle cx="233.80" cy="153.00" r="1.15" fill="#b0102e"/>
<circle cx="239.50" cy="160.30" r="1.15" fill="#b0102e"/>
<circle cx="247.00" cy="159.90" r="1.15" fill="#b0102e"/>
<circle cx="258.30" cy="176.40" r="1.15" fill="#b0102e"/>
<circle cx="265.90" cy="175.10" r="1.15" fill="#b0102e"/>
<line x1="222.4" y1="151.9" x2="222.4" y2="177.6" stroke="#111" stroke-width="1.5"/>
<line x1="221.9" y1="177.1" x2="267.5" y2="177.1" stroke="#111" stroke-width="1.5"/>
<line x1="219.6" y1="158.4" x2="222.4" y2="158.4" stroke="#333" stroke-width="1.1"/>
<text x="216.4" y="160.3" font-size="5.2" text-anchor="end" fill="#222">0.4</text>
<line x1="219.6" y1="167.5" x2="222.4" y2="167.5" stroke="#333" stroke-width="1.1"/>
<text x="216.4" y="169.4" font-size="5.2" text-anchor="end" fill="#222">0.2</text>
<line x1="219.6" y1="176.7" x2="222.4" y2="176.7" stroke="#333" stroke-width="1.1"/>
<text x="216.4" y="178.6" font-size="5.2" text-anchor="end" fill="#222">0.0</text>
<line x1="224.4" y1="177.1" x2="224.4" y2="179.8" stroke="#333" stroke-width="1.1"/>
<text x="224.4" y="186.6" font-size="5.6" text-anchor="middle" fill="#222">0</text>
<line x1="233.82" y1="177.1" x2="233.82" y2="179.8" stroke="#333" stroke-width="1.1"/>
<text x="233.82" y="186.6" font-size="5.6" text-anchor="middle" fill="#222">5</text>
<line x1="243.24" y1="177.1" x2="243.24" y2="179.8" stroke="#333" stroke-width="1.1"/>
<text x="243.24" y="186.6" font-size="5.6" text-anchor="middle" fill="#222">10</text>
<line x1="252.66" y1="177.1" x2="252.66" y2="179.8" stroke="#333" stroke-width="1.1"/>
<text x="252.66" y="186.6" font-size="5.6" text-anchor="middle" fill="#222">15</text>
<line x1="262.08" y1="177.1" x2="262.08" y2="179.8" stroke="#333" stroke-width="1.1"/>
<text x="262.08" y="186.6" font-size="5.6" text-anchor="middle" fill="#222">20</text>
<text x="217.4" y="196.9" font-size="7.4" text-anchor="start" fill="#1a1a1a" textLength="54.8" lengthAdjust="spacingAndGlyphs" stroke="#1a1a1a" stroke-width="0.25">Days after RSV detected</text>
<text x="244.2" y="217.4" font-size="6.4" text-anchor="start" fill="#b0102e" textLength="26.2" lengthAdjust="spacingAndGlyphs">2394T&gt;A</text>
<rect x="316.3" y="150.3" width="12.3" height="12.20" fill="#fff" stroke="#222" stroke-width="1"/>
<text x="312.9" y="158.70000000000002" font-size="6.5" text-anchor="end" fill="#1a1a1a">0</text>
<text x="331.8" y="158.70000000000002" font-size="6.5" text-anchor="start" fill="#1a1a1a">HRV</text>
<rect x="316.3" y="162.5" width="12.3" height="12.20" fill="#a8002a" stroke="#222" stroke-width="1"/>
<text x="312.9" y="170.9" font-size="6.5" text-anchor="end" fill="#1a1a1a">289</text>
<text x="331.8" y="170.9" font-size="6.5" text-anchor="start" fill="#1a1a1a">RSV</text>
<rect x="316.3" y="174.7" width="12.3" height="12.30" fill="#fff" stroke="#222" stroke-width="1"/>
<text x="312.9" y="183.15" font-size="6.5" text-anchor="end" fill="#1a1a1a">615</text>
<text x="331.8" y="183.15" font-size="6.5" text-anchor="start" fill="#1a1a1a">HRV</text>
<rect x="316.3" y="187.0" width="12.3" height="12.30" fill="#fff" stroke="#222" stroke-width="1"/>
<text x="312.9" y="195.45000000000002" font-size="6.5" text-anchor="end" fill="#1a1a1a">679</text>
<text x="331.8" y="195.45000000000002" font-size="6.5" text-anchor="start" fill="#1a1a1a">ADV</text>
<rect x="316.3" y="199.3" width="12.3" height="12.30" fill="#fff" stroke="#222" stroke-width="1"/>
<text x="312.9" y="207.75" font-size="6.5" text-anchor="end" fill="#1a1a1a">944</text>
<text x="331.8" y="207.75" font-size="6.5" text-anchor="start" fill="#1a1a1a">ADV</text>
<rect x="316.3" y="211.6" width="12.3" height="12.20" fill="#fff" stroke="#222" stroke-width="1"/>
<text x="312.9" y="220.0" font-size="6.5" text-anchor="end" fill="#1a1a1a">1029</text>
<text x="331.8" y="220.0" font-size="6.5" text-anchor="start" fill="#1a1a1a">HRV</text>
<text transform="translate(293.1,187.2) rotate(-90)" x="0" y="0" font-size="8.6" text-anchor="middle" fill="#1a1a1a" textLength="10.2" lengthAdjust="spacingAndGlyphs" stroke="#1a1a1a" stroke-width="0.16">Day</text>
<text x="322.6" y="233.1" font-size="6.6" text-anchor="middle" fill="#1a1a1a" textLength="20.4" lengthAdjust="spacingAndGlyphs">WGBS</text>
<text x="322.6" y="240.5" font-size="6.5" text-anchor="middle" fill="#1a1a1a" textLength="25.8" lengthAdjust="spacingAndGlyphs">2394T&gt;A</text>
<defs><linearGradient id="ylorrd" x1="0" x2="1" y1="0" y2="0"><stop offset="0" stop-color="#ffffcc"/><stop offset="0.25" stop-color="#fed976"/><stop offset="0.45" stop-color="#fdb030"/><stop offset="0.65" stop-color="#f0502a"/><stop offset="0.85" stop-color="#d0202a"/><stop offset="1" stop-color="#b01030"/></linearGradient></defs>
<rect x="312.2" y="242.3" width="22.6" height="5.4" fill="url(#ylorrd)" stroke="#111" stroke-width="1"/>
<text x="312.9" y="255.9" font-size="6.5" text-anchor="middle" fill="#1a1a1a">0%</text>
<text x="336.6" y="255.9" font-size="6.5" text-anchor="middle" fill="#1a1a1a">1%</text>
<polyline points="384.20,219.80 385.30,220.00 394.50,220.00 400.90,220.40 406.80,220.70 407.00,222.10 410.80,221.60 411.80,221.50 412.60,222.40 417.80,219.40 420.50,222.10 421.00,221.80 426.90,221.50 433.40,219.40 436.00,221.60 442.60,221.60 445.80,153.40 446.80,221.60 450.00,221.80 455.00,221.80 460.00,221.80 467.20,221.80 469.80,167.40 470.60,221.80 475.00,221.80 480.00,221.80 485.00,221.80" fill="none" stroke="#6aaee8" stroke-width="0.9" stroke-linejoin="round"/>
<circle cx="384.20" cy="219.80" r="1.4" fill="#6aaee8"/>
<circle cx="385.30" cy="220.00" r="1.4" fill="#6aaee8"/>
<circle cx="394.50" cy="220.00" r="1.4" fill="#6aaee8"/>
<circle cx="400.90" cy="220.40" r="1.4" fill="#6aaee8"/>
<circle cx="406.80" cy="220.70" r="1.4" fill="#6aaee8"/>
<circle cx="407.00" cy="222.10" r="1.4" fill="#6aaee8"/>
<circle cx="410.80" cy="221.60" r="1.4" fill="#6aaee8"/>
<circle cx="411.80" cy="221.50" r="1.4" fill="#6aaee8"/>
<circle cx="412.60" cy="222.40" r="1.4" fill="#6aaee8"/>
<circle cx="417.80" cy="219.40" r="1.4" fill="#6aaee8"/>
<circle cx="420.50" cy="222.10" r="1.4" fill="#6aaee8"/>
<circle cx="421.00" cy="221.80" r="1.4" fill="#6aaee8"/>
<circle cx="426.90" cy="221.50" r="1.4" fill="#6aaee8"/>
<circle cx="433.40" cy="219.40" r="1.4" fill="#6aaee8"/>
<circle cx="436.00" cy="221.60" r="1.4" fill="#6aaee8"/>
<circle cx="442.60" cy="221.60" r="1.4" fill="#6aaee8"/>
<circle cx="445.80" cy="153.40" r="1.4" fill="#6aaee8"/>
<circle cx="446.80" cy="221.60" r="1.4" fill="#6aaee8"/>
<circle cx="450.00" cy="221.80" r="1.4" fill="#6aaee8"/>
<circle cx="455.00" cy="221.80" r="1.4" fill="#6aaee8"/>
<circle cx="460.00" cy="221.80" r="1.4" fill="#6aaee8"/>
<circle cx="467.20" cy="221.80" r="1.4" fill="#6aaee8"/>
<circle cx="469.80" cy="167.40" r="1.4" fill="#6aaee8"/>
<circle cx="470.60" cy="221.80" r="1.4" fill="#6aaee8"/>
<circle cx="475.00" cy="221.80" r="1.4" fill="#6aaee8"/>
<circle cx="480.00" cy="221.80" r="1.4" fill="#6aaee8"/>
<circle cx="485.00" cy="221.80" r="1.4" fill="#6aaee8"/>
<polyline points="384.20,198.70 385.80,216.80 394.50,215.80 400.70,219.80 401.10,219.60 407.00,219.90 410.00,217.80 410.60,215.80 410.80,215.10 411.00,219.60 411.80,216.70 412.20,220.30 412.90,218.30 413.20,216.80 417.20,214.00 419.40,216.20 421.00,217.40 427.50,221.00 432.80,221.50 439.40,221.80 440.10,209.50 440.30,222.10 443.10,222.10 445.80,222.10 448.30,222.10 451.50,222.10 456.30,222.10 460.20,222.10 463.00,222.10 467.00,222.10 470.50,222.10 473.00,222.10 478.00,222.10 485.60,222.10" fill="none" stroke="#e8941a" stroke-width="1.0" stroke-linejoin="round" stroke-opacity="0.9"/>
<circle cx="384.20" cy="198.70" r="1.5" fill="#e8941a"/>
<circle cx="385.80" cy="216.80" r="1.5" fill="#e8941a"/>
<circle cx="394.50" cy="215.80" r="1.5" fill="#e8941a"/>
<circle cx="400.70" cy="219.80" r="1.5" fill="#e8941a"/>
<circle cx="401.10" cy="219.60" r="1.5" fill="#e8941a"/>
<circle cx="407.00" cy="219.90" r="1.5" fill="#e8941a"/>
<circle cx="410.00" cy="217.80" r="1.5" fill="#e8941a"/>
<circle cx="410.60" cy="215.80" r="1.5" fill="#e8941a"/>
<circle cx="410.80" cy="215.10" r="1.5" fill="#e8941a"/>
<circle cx="411.00" cy="219.60" r="1.5" fill="#e8941a"/>
<circle cx="411.80" cy="216.70" r="1.5" fill="#e8941a"/>
<circle cx="412.20" cy="220.30" r="1.5" fill="#e8941a"/>
<circle cx="412.90" cy="218.30" r="1.5" fill="#e8941a"/>
<circle cx="413.20" cy="216.80" r="1.5" fill="#e8941a"/>
<circle cx="417.20" cy="214.00" r="1.5" fill="#e8941a"/>
<circle cx="419.40" cy="216.20" r="1.5" fill="#e8941a"/>
<circle cx="421.00" cy="217.40" r="1.5" fill="#e8941a"/>
<circle cx="427.50" cy="221.00" r="1.5" fill="#e8941a"/>
<circle cx="432.80" cy="221.50" r="1.5" fill="#e8941a"/>
<circle cx="439.40" cy="221.80" r="1.5" fill="#e8941a"/>
<circle cx="440.10" cy="209.50" r="1.5" fill="#e8941a"/>
<circle cx="440.30" cy="222.10" r="1.5" fill="#e8941a"/>
<circle cx="443.10" cy="222.10" r="1.5" fill="#e8941a"/>
<circle cx="445.80" cy="222.10" r="1.5" fill="#e8941a"/>
<circle cx="448.30" cy="222.10" r="1.5" fill="#e8941a"/>
<circle cx="451.50" cy="222.10" r="1.5" fill="#e8941a"/>
<circle cx="456.30" cy="222.10" r="1.5" fill="#e8941a"/>
<circle cx="460.20" cy="222.10" r="1.5" fill="#e8941a"/>
<circle cx="463.00" cy="222.10" r="1.5" fill="#e8941a"/>
<circle cx="467.00" cy="222.10" r="1.5" fill="#e8941a"/>
<circle cx="470.50" cy="222.10" r="1.5" fill="#e8941a"/>
<circle cx="473.00" cy="222.10" r="1.5" fill="#e8941a"/>
<circle cx="478.00" cy="222.10" r="1.5" fill="#e8941a"/>
<circle cx="485.60" cy="222.10" r="1.5" fill="#e8941a"/>
<line x1="384.0" y1="151.0" x2="384.0" y2="224.5" stroke="#111" stroke-width="1.4" stroke-dasharray="1.4,2.85"/>
<line x1="440.17" y1="151.0" x2="440.17" y2="224.5" stroke="#111" stroke-width="1.4" stroke-dasharray="1.4,2.85"/>
<line x1="446.01533333333333" y1="151.0" x2="446.01533333333333" y2="224.5" stroke="#111" stroke-width="1.4" stroke-dasharray="1.4,2.85"/>
<line x1="470.21866666666665" y1="151.0" x2="470.21866666666665" y2="224.5" stroke="#111" stroke-width="1.4" stroke-dasharray="1.4,2.85"/>
<line x1="477.98199999999997" y1="151.0" x2="477.98199999999997" y2="224.5" stroke="#111" stroke-width="1.4" stroke-dasharray="1.4,2.85"/>
<line x1="378.8" y1="150" x2="378.8" y2="225.6" stroke="#111" stroke-width="1.5"/>
<line x1="378.3" y1="225.1" x2="491.7" y2="225.1" stroke="#111" stroke-width="1.5"/>
<line x1="375.8" y1="157.7" x2="378.8" y2="157.7" stroke="#333" stroke-width="1.1"/>
<text x="373.0" y="159.2" font-size="6.6" text-anchor="end" fill="#222">3</text>
<line x1="375.8" y1="179.2" x2="378.8" y2="179.2" stroke="#333" stroke-width="1.1"/>
<text x="373.0" y="180.7" font-size="6.6" text-anchor="end" fill="#222">2</text>
<line x1="375.8" y1="200.3" x2="378.8" y2="200.3" stroke="#333" stroke-width="1.1"/>
<text x="373.0" y="201.8" font-size="6.6" text-anchor="end" fill="#222">1</text>
<line x1="375.8" y1="221.5" x2="378.8" y2="221.5" stroke="#333" stroke-width="1.1"/>
<text x="373.0" y="223.0" font-size="6.6" text-anchor="end" fill="#222">0</text>
<line x1="384.0" y1="225.0" x2="384.0" y2="228.2" stroke="#333" stroke-width="1.1"/>
<text x="384.0" y="236.7" font-size="6.6" text-anchor="middle" fill="#222">0</text>
<line x1="411.4" y1="225.0" x2="411.4" y2="228.2" stroke="#333" stroke-width="1.1"/>
<text x="411.4" y="236.7" font-size="6.6" text-anchor="middle" fill="#222">300</text>
<line x1="438.8" y1="225.0" x2="438.8" y2="228.2" stroke="#333" stroke-width="1.1"/>
<text x="438.8" y="236.7" font-size="6.6" text-anchor="middle" fill="#222">600</text>
<line x1="466.2" y1="225.0" x2="466.2" y2="228.2" stroke="#333" stroke-width="1.1"/>
<text x="466.2" y="236.7" font-size="6.6" text-anchor="middle" fill="#222">900</text>
<text transform="translate(363.8,186.4) rotate(-90)" x="0" y="0" font-size="7.9" text-anchor="middle" fill="#1a1a1a" textLength="41.4" lengthAdjust="spacingAndGlyphs" stroke="#1a1a1a" stroke-width="0.16">% heteroplasmy</text>
<text x="404" y="249.0" font-size="8.4" text-anchor="start" fill="#1a1a1a" textLength="62.2" lengthAdjust="spacingAndGlyphs" stroke="#1a1a1a" stroke-width="0.16">Days after initial sample</text>
<text x="392.8" y="178.3" font-size="6.3" text-anchor="start" fill="#1a1a1a" textLength="13.3" lengthAdjust="spacingAndGlyphs">HRV</text>
<text x="420.2" y="178.3" font-size="6.3" text-anchor="start" fill="#1a1a1a" textLength="13.0" lengthAdjust="spacingAndGlyphs">HRV</text>
<text x="486.7" y="179.7" font-size="6.3" text-anchor="start" fill="#1a1a1a" textLength="12.6" lengthAdjust="spacingAndGlyphs">HRV</text>
<text x="452.1" y="148.8" font-size="6.3" text-anchor="start" fill="#1a1a1a" textLength="12.6" lengthAdjust="spacingAndGlyphs">ADV</text>
<line x1="391.8" y1="178.1" x2="389.06216701119973" y2="179.46891649440013" stroke="#111" stroke-width="0.9"/>
<path d="M386.20,180.90 L388.35,178.04 L389.78,180.90 Z" fill="#111"/>
<line x1="433.9" y1="178.7" x2="435.44749013989764" y2="179.8700535204104" stroke="#111" stroke-width="0.9"/>
<path d="M438.00,181.80 L434.48,181.15 L436.41,178.59 Z" fill="#111"/>
<line x1="485.6" y1="178.8" x2="483.12941882903596" y2="180.10521269409423" stroke="#111" stroke-width="0.9"/>
<path d="M480.30,181.60 L482.38,178.69 L483.88,181.52 Z" fill="#111"/>
<line x1="453.9" y1="152.2" x2="451.18245978038044" y2="153.51024260588798" stroke="#111" stroke-width="0.9"/>
<path d="M448.30,154.90 L450.49,152.07 L451.88,154.95 Z" fill="#111"/>
<line x1="464.2" y1="151.9" x2="465.9416919052884" y2="153.35140992107367" stroke="#111" stroke-width="0.9"/>
<path d="M468.40,155.40 L464.92,154.58 L466.97,152.12 Z" fill="#111"/>
<text x="510.3" y="208.4" font-size="6.4" text-anchor="end" fill="#6aaee8" textLength="26.2" lengthAdjust="spacingAndGlyphs">1575A&gt;G</text>
<text x="510.6" y="215.9" font-size="6.4" text-anchor="end" fill="#e8941a" textLength="28.5" lengthAdjust="spacingAndGlyphs">10310T&gt;G</text>
</svg>
</body></html>
